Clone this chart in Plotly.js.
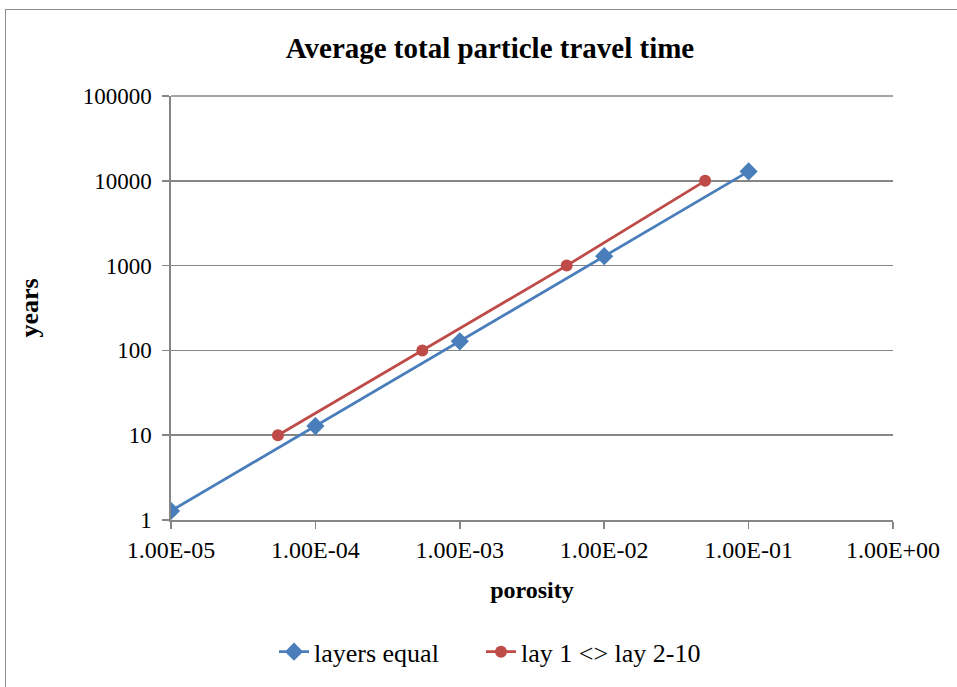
<!DOCTYPE html>
<html>
<head>
<meta charset="utf-8">
<script src="https://cdn.plot.ly/plotly-3.0.1.min.js"></script>
<style>
html,body{margin:0;padding:0;background:#fff;overflow:hidden;}
#chart{position:absolute;left:0;top:0;width:957px;height:687px;}
#frame{position:absolute;left:5px;top:9px;width:970px;height:700px;border:1.5px solid #8c8c8c;pointer-events:none;}
</style>
</head>
<body>
<div id="chart"></div>
<div id="frame"></div>
<script>
// Data
const chartTitle = "Average total particle travel time";
const xTitle = "porosity";
const yTitle = "years";

const equalPorosity = [1e-5, 1e-4, 1e-3, 1e-2, 1e-1];
const equalYears    = [1.28, 12.8, 128, 1290, 12900];

const layPorosity = [5.5e-5, 5.5e-4, 5.5e-3, 5e-2];
const layYears    = [10, 100, 1000, 10000];

const seriesNames = ["layers equal", "lay 1 <> lay 2-10"];

const xTickVals = [1e-5, 1e-4, 1e-3, 1e-2, 1e-1, 1];
const xTickText = ["1.00E-05", "1.00E-04", "1.00E-03", "1.00E-02", "1.00E-01", "1.00E+00"];
const yTickVals = [1, 10, 100, 1000, 10000, 100000];
const yTickText = ["1", "10", "100", "1000", "10000", "100000"];

const serif = "'Liberation Serif', 'Times New Roman', serif";
const gridGray = "#868686";

const traces = [
  {
    x: equalPorosity, y: equalYears, name: seriesNames[0],
    type: "scatter", mode: "lines+markers", legend: "legend",
    line: {color: "#4a7ebb", width: 2.75},
    marker: {symbol: "diamond", size: 14, color: "#4a7ebb"}
  },
  {
    x: layPorosity, y: layYears, name: seriesNames[1],
    type: "scatter", mode: "lines+markers", legend: "legend2",
    line: {color: "#be4b48", width: 2.75},
    marker: {symbol: "circle", size: 12, color: "#be4b48"}
  }
];

const legendStyle = (xPix) => ({
  orientation: "h",
  x: (xPix - 171) / 722, xanchor: "left",
  y: (524 - 657) / 428, yanchor: "middle",
  font: {family: serif, size: 26, color: "#000"},
  bgcolor: "rgba(0,0,0,0)"
});

const layout = {
  width: 957, height: 687,
  paper_bgcolor: "#ffffff", plot_bgcolor: "#ffffff",
  margin: {l: 171, r: 64, t: 96, b: 163, pad: 0},
  font: {family: serif, size: 24, color: "#000"},
  title: {
    text: "<b>" + chartTitle + "</b>",
    font: {family: serif, size: 29, color: "#000"},
    xref: "container", x: 0.512, xanchor: "center",
    yref: "container", y: 1 - 48/687, yanchor: "middle"
  },
  xaxis: {
    type: "log", range: [-5, 0],
    tickmode: "array", tickvals: xTickVals, ticktext: xTickText,
    showgrid: false, zeroline: false,
    showline: true, linecolor: gridGray, linewidth: 1.75,
    ticks: "outside", ticklen: 7, tickwidth: 1.5, tickcolor: gridGray,
    tickfont: {family: serif, size: 24, color: "#000"},
    title: {text: "<b>" + xTitle + "</b>", font: {family: serif, size: 24, color: "#000"}, standoff: 20}
  },
  yaxis: {
    type: "log", range: [0, 5],
    tickmode: "array", tickvals: yTickVals, ticktext: yTickText,
    showgrid: true, gridcolor: gridGray, gridwidth: 1.5,
    zeroline: false,
    showline: true, linecolor: gridGray, linewidth: 1.75,
    ticks: "outside", ticklen: 7, tickwidth: 1.5, tickcolor: gridGray,
    ticklabelstandoff: 6,
    tickfont: {family: serif, size: 23, color: "#000"},
    title: {text: "<b>" + yTitle + "</b>", font: {family: serif, size: 26, color: "#000"}, standoff: 36}
  },
  shapes: [
    {type: "line", xref: "paper", yref: "paper", x0: 0, x1: 1, y0: 1, y1: 1,
     line: {color: gridGray, width: 1.5}, layer: "below"}
  ],
  showlegend: true,
  legend: legendStyle(274),
  legend2: legendStyle(481)
};

Plotly.newPlot("chart", traces, layout, {displayModeBar: false, staticPlot: true});
</script>
</body>
</html>
